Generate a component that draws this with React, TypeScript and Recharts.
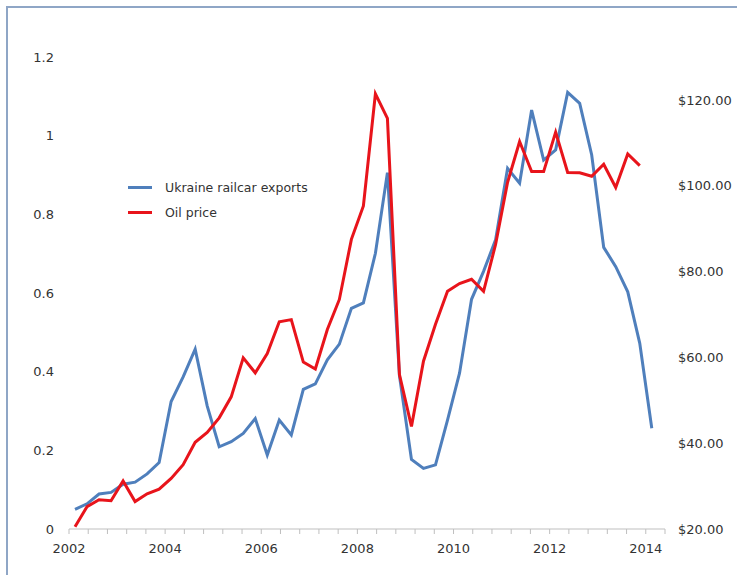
import React from "react";
import { LineChart, Line, XAxis, YAxis, Legend } from "recharts";

const quarters = [
  "2002Q1","2002Q2","2002Q3","2002Q4",
  "2003Q1","2003Q2","2003Q3","2003Q4",
  "2004Q1","2004Q2","2004Q3","2004Q4",
  "2005Q1","2005Q2","2005Q3","2005Q4",
  "2006Q1","2006Q2","2006Q3","2006Q4",
  "2007Q1","2007Q2","2007Q3","2007Q4",
  "2008Q1","2008Q2","2008Q3","2008Q4",
  "2009Q1","2009Q2","2009Q3","2009Q4",
  "2010Q1","2010Q2","2010Q3","2010Q4",
  "2011Q1","2011Q2","2011Q3","2011Q4",
  "2012Q1","2012Q2","2012Q3","2012Q4",
  "2013Q1","2013Q2","2013Q3","2013Q4",
  "2014Q1",
];

const railcarExports = [
  0.050, 0.064, 0.089, 0.093, 0.114, 0.119, 0.140, 0.169, 0.324, 0.387,
  0.457, 0.313, 0.209, 0.222, 0.243, 0.281, 0.188, 0.277, 0.239, 0.355,
  0.369, 0.430, 0.470, 0.561, 0.575, 0.701, 0.906, 0.390, 0.177, 0.154,
  0.163, 0.277, 0.396, 0.584, 0.655, 0.735, 0.917, 0.879, 1.065, 0.938,
  0.964, 1.110, 1.082, 0.951, 0.716, 0.667, 0.603, 0.472, 0.256,
];

const oilPrice = [
  20.5, 25.2, 26.8, 26.6, 31.2, 26.4, 28.2, 29.3, 31.8, 35.0,
  40.2, 42.5, 45.9, 50.8, 59.9, 56.4, 60.9, 68.3, 68.8, 58.9,
  57.3, 66.5, 73.5, 87.5, 95.3, 121.4, 115.7, 56.0, 43.9, 59.1,
  67.7, 75.4, 77.2, 78.2, 75.4, 86.3, 100.8, 110.3, 103.3, 103.3,
  112.5, 103.1, 103.0, 102.2, 105.0, 99.6, 107.4, 104.7,
];

const xTicks = [
  2002, 2002.4, 2002.8, 2003.2, 2003.6, 2004, 2004.4, 2004.8, 2005.2, 2005.6,
  2006, 2006.4, 2006.8, 2007.2, 2007.6, 2008, 2008.4, 2008.8, 2009.2, 2009.6,
  2010, 2010.4, 2010.8, 2011.2, 2011.6, 2012, 2012.4, 2012.8, 2013.2, 2013.6,
  2014, 2014.4,
];
const yearLabels = [2002, 2004, 2006, 2008, 2010, 2012, 2014];
const leftTicks = [0, 0.2, 0.4, 0.6, 0.8, 1, 1.2];
const rightTicks = [20, 40, 60, 80, 100, 120];

const seriesNames = { exports: "Ukraine railcar exports", oil: "Oil price" };

const BLUE = "#4f7fbc";
const RED = "#e8141b";
const FONT = "'DejaVu Sans', Verdana, sans-serif";

const data = quarters.map((q, i) => {
  const year = Number(q.slice(0, 4));
  const qn = Number(q.slice(5));
  return {
    t: year + (qn - 0.5) / 4,
    exports: railcarExports[i],
    oil: i < oilPrice.length ? oilPrice[i] : null,
  };
});

const XTick = (props: any) => {
  const { x, y, payload } = props;
  const v = Math.round(payload.value * 10) / 10;
  if (!yearLabels.includes(v)) return null;
  return (
    <text x={x} y={y} dy="0.71em" textAnchor="middle" fill="#333" fontSize={13} fontFamily={FONT}>
      {String(v)}
    </text>
  );
};

const LegendContent = () => (
  <div style={{ fontFamily: FONT, fontSize: 12.5, color: "#333" }}>
    {[
      { c: BLUE, n: seriesNames.exports },
      { c: RED, n: seriesNames.oil },
    ].map((e) => (
      <div key={e.n} style={{ display: "flex", alignItems: "center", height: 25 }}>
        <div style={{ width: 24, height: 3, background: e.c, marginRight: 13 }} />
        <span>{e.n}</span>
      </div>
    ))}
  </div>
);

export default function App() {
  return (
    <div style={{ position: "absolute", left: 0, top: 0, width: 737, height: 575, background: "#fff", overflow: "hidden" }}>
      <div
        style={{
          position: "absolute",
          left: 6,
          top: 6,
          width: 760,
          height: 600,
          borderTop: "2px solid #8fa6c6",
          borderLeft: "2px solid #8fa6c6",
        }}
      />
      <div style={{ position: "absolute", left: 0, top: 0 }}>
        <LineChart width={737} height={575} data={data} margin={{ top: 57, right: 0, bottom: 16, left: 0 }}>
          <XAxis
            dataKey="t"
            type="number"
            domain={[2002, 2014.4]}
            ticks={xTicks}
            interval={0}
            stroke="#bfbfbf"
            tickLine={{ stroke: "#bfbfbf" }}
            tickSize={5}
            tickMargin={10}
            height={30}
            tick={<XTick />}
          />
          <YAxis
            yAxisId="left"
            domain={[0, 1.2]}
            ticks={leftTicks}
            axisLine={false}
            tickLine={false}
            tickSize={0}
            tickMargin={15}
            width={69}
            interval={0}
            tick={{ fill: "#333", fontSize: 13, fontFamily: FONT }}
          />
          <YAxis
            yAxisId="right"
            orientation="right"
            domain={[20, 130]}
            ticks={rightTicks}
            axisLine={false}
            tickLine={false}
            tickSize={0}
            tickMargin={13}
            width={72}
            interval={0}
            tickFormatter={(v: number) => `$${v.toFixed(2)}`}
            tick={{ fill: "#333", fontSize: 13, fontFamily: FONT, textAnchor: "start" }}
          />
          <Legend
            content={<LegendContent />}
            layout="horizontal"
            verticalAlign="middle"
            align="center"
            wrapperStyle={{ left: 128, top: 175, width: 220 }}
          />
          <Line
            yAxisId="left"
            type="linear"
            dataKey="exports"
            name={seriesNames.exports}
            stroke={BLUE}
            strokeWidth={3}
            dot={false}
            isAnimationActive={false}
          />
          <Line
            yAxisId="right"
            type="linear"
            dataKey="oil"
            name={seriesNames.oil}
            stroke={RED}
            strokeWidth={3}
            dot={false}
            isAnimationActive={false}
          />
        </LineChart>
      </div>
    </div>
  );
}
